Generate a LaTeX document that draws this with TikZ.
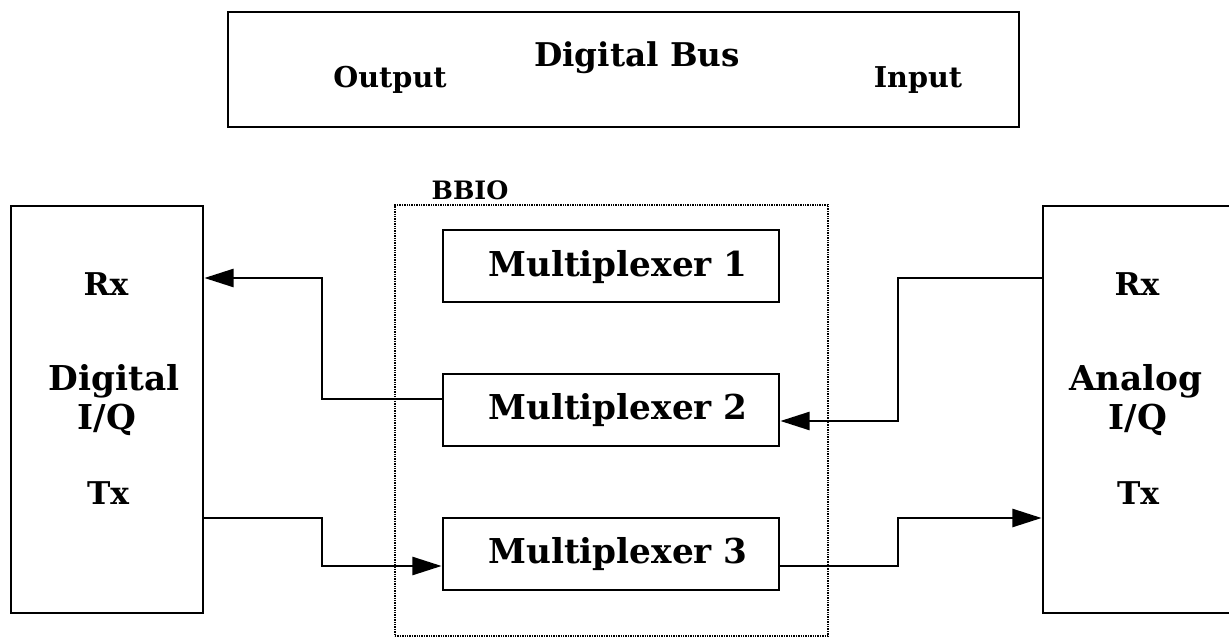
\documentclass[tikz,border=0pt]{standalone}
\usepackage{fontspec}
\setmainfont{DejaVu Serif}
\usetikzlibrary{arrows.meta}
\begin{document}
\begin{tikzpicture}[x=0.75pt,y=-0.75pt,
  box/.style={draw,line width=2pt,inner sep=0pt},
  bigtxt/.style={font=\fontsize{25.7}{29}\selectfont\bfseries,inner sep=0pt},
  bustxt/.style={font=\fontsize{24.5}{28}\selectfont\bfseries,inner sep=0pt},
  iotxt/.style={font=\fontsize{21.5}{25}\selectfont\bfseries,inner sep=0pt},
  rxtxt/.style={font=\fontsize{23.5}{27}\selectfont\bfseries,inner sep=0pt},
  lbltxt/.style={font=\fontsize{19}{23}\selectfont\bfseries,inner sep=0pt},
  arr/.style={line width=2pt,-{Triangle[length=22pt,width=13.5pt]}}]
\useasboundingbox (0,0) rectangle (1229,638);
% digital bus
\node[box,minimum width=791*0.75pt,minimum height=115*0.75pt] (bus) at (623.5,69.5) {};
\node[bustxt] (bustitle) at (637,58) {Digital Bus};
\node[iotxt] (out) at (390,80) {Output};
\node[iotxt] (in) at (918,80) {Input};
% side boxes
\node[box,minimum width=192*0.75pt,minimum height=407*0.75pt] (dig) at (107,409.5) {};
\node[box,minimum width=200*0.75pt,minimum height=407*0.75pt] (ana) at (1143,409.5) {};
\node[rxtxt] (drx) at (106,284) {Rx};
\node[bigtxt] (dname) at (114,381) {Digital};
\node[bigtxt] (diq) at (107,420) {I/Q};
\node[rxtxt] (dtx) at (108,493) {Tx};
\node[rxtxt] (arx) at (1137,284) {Rx};
\node[bigtxt] (aname) at (1136,381) {Analog};
\node[bigtxt] (aiq) at (1138,420) {I/Q};
\node[rxtxt] (atx) at (1138,493) {Tx};
% BBIO
\node[draw,line width=0.9pt,dash pattern=on 1pt off 0.8pt,minimum width=433*0.75pt,minimum height=431*0.75pt,inner sep=0pt] (bbio) at (611.5,420.5) {};
\node[lbltxt] (bbiolbl) at (470,190) {BBIO};
% multiplexers
\node[box,minimum width=336*0.75pt,minimum height=72*0.75pt] (m1) at (611,266) {};
\node[box,minimum width=336*0.75pt,minimum height=72*0.75pt] (m2) at (611,410) {};
\node[box,minimum width=336*0.75pt,minimum height=72*0.75pt] (m3) at (611,554) {};
\node[bigtxt] (m1t) at (618,267) {Multiplexer 1};
\node[bigtxt] (m2t) at (618,410) {Multiplexer 2};
\node[bigtxt] (m3t) at (618,554) {Multiplexer 3};
% connectors
\draw[arr] (m2.west |- 0,399) -| (322,278) -- (dig.east |- 0,278);
\draw[arr] (ana.west |- 0,278) -| (898,421) -- (m2.east |- 0,421);
\draw[arr] (dig.east |- 0,518) -| (322,566) -- (m3.west |- 0,566);
\draw[arr] (m3.east |- 0,566) -| (898,518) -- (ana.west |- 0,518);
\end{tikzpicture}
\end{document}
